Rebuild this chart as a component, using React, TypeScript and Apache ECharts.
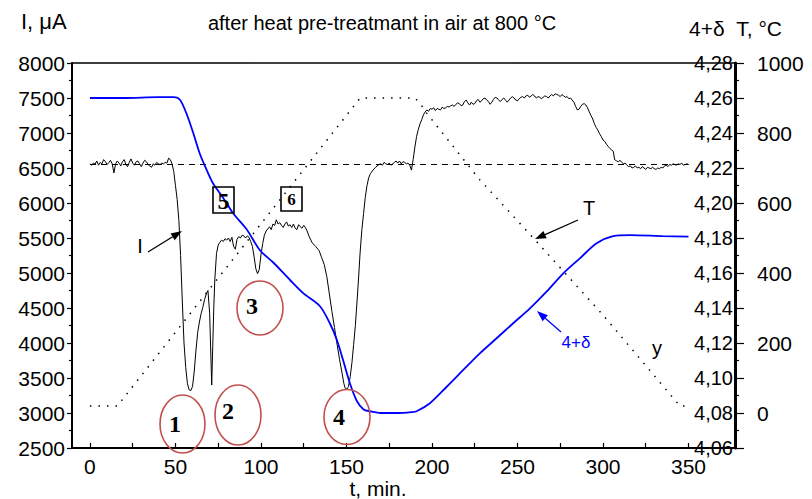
import React, { useEffect, useRef } from "react";
import * as echarts from "echarts";

// ---------- data ----------
const xTickLabels = [0, 50, 100, 150, 200, 250, 300, 350];
const xTickMarks = [0, 25, 50, 75, 100, 125, 150, 175, 200, 225, 250, 275, 300, 325, 350];
const tTickLabels = [0, 200, 400, 600, 800, 1000];

// current I, uA vs t, min
const currentData: [number, number][] = [
  [0, 6560], [1, 6540], [2, 6570], [3, 6555], [4, 6600], [5, 6540], [6, 6580], [7, 6560], [8, 6620], [9, 6590],
  [10, 6550], [11, 6575], [12, 6610], [13, 6560], [14, 6430], [15, 6560], [16, 6600], [17, 6570], [18, 6530], [19, 6590],
  [20, 6620], [21, 6550], [22, 6520], [23, 6580], [24, 6630], [25, 6570], [26, 6540], [27, 6590], [28, 6600], [29, 6560],
  [30, 6520], [31, 6570], [32, 6610], [33, 6590], [34, 6550], [35, 6530], [36, 6510], [37, 6560], [38, 6540], [39, 6580],
  [40, 6560], [41, 6550], [42, 6570], [43, 6560], [44, 6580], [45, 6570], [46, 6640], [47, 6620], [48, 6560],
  [49, 6450], [50, 6250], [51, 6050], [52, 5750], [53, 5250], [54, 4600], [55, 4000], [56, 3650], [57, 3420], [58, 3330],
  [59, 3320], [60, 3380], [61, 3600], [62, 3900], [63, 4150], [64, 4300], [65, 4420], [66, 4510], [67, 4620], [68, 4700],
  [69, 4750], [70, 4420], [70.6, 3900], [71.2, 3400], [71.8, 3950], [72.4, 4500], [73, 4900], [74, 5280], [75, 5400],
  [76, 5440], [77, 5470], [78, 5450], [79, 5490], [80, 5470], [81, 5500], [82, 5450], [83, 5510], [84, 5380], [85, 5340],
  [86, 5480], [87, 5520], [88, 5500], [89, 5540], [90, 5530], [91, 5500], [92, 5530], [93, 5510], [94, 5450], [95, 5380],
  [96, 5230], [97, 5060], [98, 4990], [99, 5050], [100, 5260], [101, 5420], [102, 5540], [103, 5600], [104, 5630],
  [105, 5660], [106, 5620], [107, 5700], [108, 5680], [109, 5760], [110, 5700], [111, 5720], [112, 5680], [113, 5650],
  [114, 5700], [115, 5730], [116, 5670], [117, 5690], [118, 5650], [119, 5700], [120, 5640], [121, 5620], [122, 5690],
  [123, 5660], [124, 5640], [125, 5680], [126, 5650], [127, 5600], [128, 5530], [130, 5430], [132, 5380], [134, 5320],
  [135.5, 5220], [137, 5120], [138.5, 4950], [140, 4700], [141.5, 4450], [143, 4220], [144.5, 3980], [146, 3760],
  [147.5, 3560], [148.5, 3420], [149.3, 3350], [150.3, 3340], [151.2, 3380], [152.2, 3520], [153.2, 3720], [154.2, 3980],
  [155.2, 4250], [156.2, 4600], [157, 4900], [158, 5300], [159, 5620], [160, 5850], [161, 6080], [162, 6250], [163, 6360],
  [164, 6420], [165.5, 6470], [167, 6510], [168.5, 6540], [170, 6560], [171, 6540], [172, 6580], [173, 6560], [174, 6550],
  [175, 6570], [176, 6540], [177, 6560], [178, 6580], [179, 6600], [180, 6570], [181, 6600], [182, 6560], [183, 6590],
  [184, 6580], [185, 6560], [186, 6570], [187, 6540], [188, 6470], [189, 6620], [190, 6800], [191, 6950], [192, 7050],
  [193, 7130], [194, 7190], [195, 7260], [196, 7300], [197, 7330], [198, 7310], [199, 7350], [200, 7340], [201, 7360],
  [202, 7320], [203, 7350], [204, 7340], [205, 7330], [206, 7370], [207, 7350], [208, 7360], [209, 7380], [210, 7370],
  [211, 7390], [212, 7400], [213, 7380], [214, 7410], [215, 7430], [216, 7420], [217, 7390], [218, 7400], [219, 7450],
  [220, 7470], [221, 7430], [222, 7400], [223, 7440], [224, 7410], [225, 7420], [226, 7460], [227, 7480], [228, 7440],
  [229, 7460], [230, 7490], [231, 7500], [232, 7470], [233, 7450], [234, 7410], [235, 7440], [236, 7480], [237, 7510],
  [238, 7500], [239, 7470], [240, 7450], [241, 7480], [242, 7500], [243, 7470], [244, 7440], [245, 7470], [246, 7500],
  [247, 7520], [248, 7500], [249, 7470], [250, 7460], [251, 7490], [252, 7510], [253, 7520], [254, 7500], [255, 7530],
  [256, 7540], [257, 7510], [258, 7530], [259, 7550], [260, 7530], [261, 7500], [262, 7520], [263, 7510], [264, 7490],
  [265, 7510], [266, 7530], [267, 7520], [268, 7500], [269, 7530], [270, 7550], [271, 7530], [272, 7560], [273, 7550],
  [274, 7540], [275, 7520], [276, 7550], [277, 7530], [278, 7510], [279, 7520], [280, 7490], [281, 7500], [282, 7470],
  [283, 7440], [284, 7380], [285, 7330], [286, 7340], [287, 7380], [288, 7410], [289, 7420], [290, 7400], [291, 7360],
  [292, 7300], [293, 7250], [294, 7200], [295, 7130], [296, 7080], [297, 7040], [298, 6990], [299, 6950], [300, 6900],
  [301, 6880], [302, 6840], [303, 6810], [304, 6780], [305, 6760], [306, 6740], [306.8, 6620], [308, 6600], [309, 6590],
  [310, 6610], [311, 6580], [312, 6560], [313, 6570], [314, 6540], [315, 6520], [316, 6530], [317, 6500], [318, 6510],
  [319, 6530], [320, 6500], [321, 6510], [322, 6490], [323, 6520], [324, 6500], [325, 6480], [326, 6510], [327, 6500],
  [328, 6490], [329, 6510], [330, 6490], [331, 6480], [332, 6500], [333, 6490], [334, 6510], [335, 6500], [336, 6530],
  [337, 6540], [338, 6520], [339, 6550], [340, 6540], [341, 6560], [342, 6550], [343, 6540], [344, 6560], [345, 6550],
  [346, 6570], [347, 6540], [348, 6550], [349, 6560], [350, 6550],
];

// reference level of I (dashed)
const baselineData: [number, number][] = [[0, 6550], [350, 6550]];

// oxygen index 4+delta vs t
const deltaData: [number, number][] = [
  [0, 4.26], [20, 4.26], [40, 4.2605], [49, 4.2605], [52.6, 4.259], [56.5, 4.251], [60.4, 4.24], [64.3, 4.228],
  [68.2, 4.219], [72.1, 4.211], [76, 4.2056], [79.9, 4.2], [83.8, 4.194], [91.6, 4.185], [99.4, 4.173], [107.2, 4.166],
  [117, 4.156], [124.7, 4.1485], [134.5, 4.141], [140.4, 4.131], [144.3, 4.122], [148.1, 4.11], [152, 4.097],
  [156, 4.087], [160, 4.082], [163.7, 4.081], [170, 4.08], [180, 4.08], [188, 4.0805], [191, 4.081], [198.8, 4.0856],
  [208.6, 4.095], [218.3, 4.1046], [228, 4.1141], [237.8, 4.1227], [247.5, 4.1313], [257.3, 4.1398], [267, 4.1493],
  [276.8, 4.1598], [286.5, 4.1684], [296.3, 4.177], [306, 4.1811], [315.8, 4.1817], [335, 4.1811], [350, 4.1808],
];

// temperature T, C vs t
const tempData: [number, number][] = [
  [0, 20], [16, 20], [158, 900], [190, 900], [193, 885], [197, 856], [228, 666], [260, 496], [300, 280], [345, 20], [350, 20],
];

// ---------- annotation helpers ----------
const FONT = "'Liberation Sans', Arial, sans-serif";
const SERIF = "'Liberation Serif', 'Times New Roman', serif";
const RED = "#c0504d";

function txt(x: number, y: number, text: string, size: number, opts: any = {}) {
  return {
    type: "text",
    x,
    y,
    z: 100,
    style: {
      text,
      fontSize: size,
      fontFamily: opts.family || FONT,
      fontWeight: opts.weight || "normal",
      fill: opts.color || "#000",
      textAlign: opts.align || "center",
      textVerticalAlign: "middle",
      align: opts.align || "center",
      verticalAlign: "middle",
    },
  };
}

function arrow(x1: number, y1: number, x2: number, y2: number, color: string) {
  const ang = Math.atan2(y2 - y1, x2 - x1);
  const L = 11;
  const W = 4;
  const bx = x2 - L * Math.cos(ang);
  const by = y2 - L * Math.sin(ang);
  const px = -Math.sin(ang) * W;
  const py = Math.cos(ang) * W;
  return [
    { type: "line", z: 100, shape: { x1, y1, x2: bx, y2: by }, style: { stroke: color, lineWidth: 1.3 } },
    {
      type: "polygon",
      z: 100,
      shape: { points: [[x2, y2], [bx + px, by + py], [bx - px, by - py]] },
      style: { fill: color },
    },
  ];
}

function ell(cx: number, cy: number, rx: number, ry: number) {
  return { type: "ellipse", z: 100, shape: { cx, cy, rx, ry }, style: { fill: "none", stroke: RED, lineWidth: 1.6 } };
}

function box(x: number, y: number, w: number, h: number) {
  return { type: "rect", z: 100, shape: { x, y, width: w, height: h }, style: { fill: "none", stroke: "#000", lineWidth: 1.6 } };
}

export default function App() {
  const ref = useRef<HTMLDivElement>(null);

  useEffect(() => {
    if (!ref.current) return;
    const chart = echarts.init(ref.current, null, { renderer: "svg" });

    const graphic: any[] = [
      txt(21, 21, "I, μA", 22, { align: "left" }),
      txt(382, 23, "after heat pre-treatmant in air at 800 °C", 20),
      txt(689, 28, "4+δ  T, °C", 21, { align: "left" }),
      txt(378, 488, "t, min.", 21),
      // boxes 5 and 6
      box(213, 187, 21, 26),
      txt(223.5, 201, "5", 24, { family: SERIF, weight: "bold" }),
      box(281, 187, 21, 24),
      txt(291.5, 199, "6", 17, { family: SERIF, weight: "bold" }),
      // circled numbers
      ell(182.5, 424, 22.5, 29),
      txt(175, 424, "1", 24, { family: SERIF, weight: "bold" }),
      ell(238, 415, 23, 30),
      txt(228, 411, "2", 24, { family: SERIF, weight: "bold" }),
      ell(260, 308, 23, 27),
      txt(252, 306, "3", 24, { family: SERIF, weight: "bold" }),
      ell(347, 417, 23, 27.5),
      txt(339, 417, "4", 24, { family: SERIF, weight: "bold" }),
      // labels with arrows
      txt(140, 246, "I", 20),
      ...arrow(148, 252, 182, 231, "#000"),
      txt(589, 208, "T", 20),
      ...arrow(578, 220, 535, 239, "#000"),
      txt(576, 342, "4+δ", 17, { color: "#0000ff" }),
      ...arrow(561, 332, 537, 311, "#0000ff"),
      txt(657, 348, "y", 20),
    ];

    const plain = (v: number) => String(v);

    const option: any = {
      animation: false,
      backgroundColor: "#fff",
      grid: { left: 72, top: 63, right: 77, bottom: 51, containLabel: false },
      xAxis: [
        {
          type: "value",
          min: -10.5,
          max: 377.2,
          axisLine: { show: true, onZero: false, lineStyle: { color: "#000", width: 2 } },
          axisTick: { show: true, inside: true, length: 5, customValues: xTickMarks, lineStyle: { color: "#000", width: 1.2 } },
          axisLabel: { customValues: xTickLabels, fontSize: 21, color: "#000", fontFamily: FONT, margin: 8, formatter: plain },
          splitLine: { show: false },
        },
        {
          type: "value",
          position: "top",
          min: -10.5,
          max: 377.2,
          axisLine: { show: true, onZero: false, lineStyle: { color: "#000", width: 1.5 } },
          axisTick: { show: false },
          axisLabel: { show: false },
          splitLine: { show: false },
        },
      ],
      yAxis: [
        {
          type: "value",
          min: 2500,
          max: 8000,
          interval: 500,
          position: "left",
          axisLine: { show: true, onZero: false, lineStyle: { color: "#000", width: 2 } },
          axisTick: { show: true, inside: false, length: 5, lineStyle: { color: "#000", width: 1.2 } },
          minorTick: { show: true, splitNumber: 2, length: 3, lineStyle: { color: "#000", width: 1.2 } },
          axisLabel: { fontSize: 21, color: "#000", fontFamily: FONT, margin: 7, formatter: plain },
          splitLine: { show: false },
        },
        {
          type: "value",
          min: 4.06,
          max: 4.28,
          interval: 0.02,
          position: "right",
          axisLine: { show: true, onZero: false, lineStyle: { color: "#000", width: 3 } },
          axisTick: { show: true, inside: false, length: 9, lineStyle: { color: "#000", width: 1.2 } },
          minorTick: { show: true, splitNumber: 2, length: 4, lineStyle: { color: "#000", width: 1.2 } },
          axisLabel: {
            inside: true,
            fontSize: 20,
            color: "#000",
            fontFamily: FONT,
            margin: 2,
            showMinLabel: true,
            showMaxLabel: true,
            formatter: (v: number) => v.toFixed(2).replace(".", ","),
          },
          splitLine: { show: false },
        },
        {
          type: "value",
          min: -100,
          max: 1000,
          position: "right",
          axisLine: { show: false },
          axisTick: { show: false },
          axisLabel: { customValues: tTickLabels, fontSize: 21, color: "#000", fontFamily: FONT, margin: 22, formatter: plain },
          splitLine: { show: false },
        },
      ],
      series: [
        {
          name: "I",
          type: "line",
          xAxisIndex: 0,
          yAxisIndex: 0,
          data: currentData,
          showSymbol: false,
          symbol: "none",
          lineStyle: { color: "#000", width: 1 },
          z: 3,
        },
        {
          name: "baseline",
          type: "line",
          xAxisIndex: 0,
          yAxisIndex: 0,
          data: baselineData,
          symbol: "none",
          lineStyle: { color: "#000", width: 1, type: [6, 5] },
          z: 2,
        },
        {
          name: "4+δ",
          type: "line",
          xAxisIndex: 0,
          yAxisIndex: 1,
          data: deltaData,
          symbol: "none",
          smooth: 0.3,
          lineStyle: { color: "#0000ff", width: 1.8 },
          z: 4,
        },
        {
          name: "T",
          type: "line",
          xAxisIndex: 0,
          yAxisIndex: 2,
          data: tempData,
          symbol: "none",
          lineStyle: { color: "#000", width: 1.5, type: [1.5, 7] },
          z: 2,
        },
      ],
      graphic,
    };

    chart.setOption(option);
    return () => chart.dispose();
  }, []);

  return (
    <div
      ref={ref}
      style={{ position: "fixed", left: 0, top: 0, width: 812, height: 499, background: "#fff" }}
    />
  );
}
